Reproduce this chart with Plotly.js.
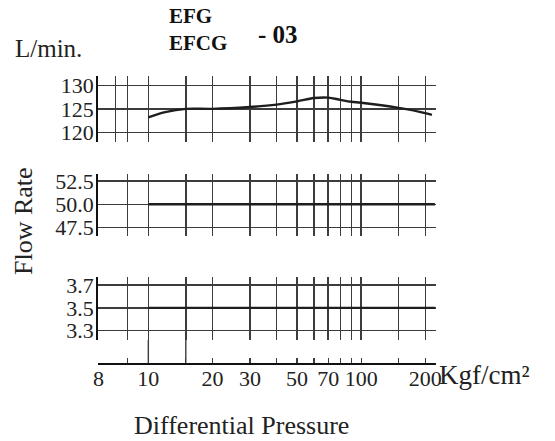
<!DOCTYPE html>
<html>
<head>
<meta charset="utf-8">
<script src="https://cdn.plot.ly/plotly-3.0.1.min.js"></script>
<style>html,body{margin:0;padding:0;background:#fff;}#chart{width:555px;height:441px;}</style>
</head>
<body>
<div id="chart"></div>
<script>
// ---- data ----
const pressureTop = [10, 12, 15, 20, 30, 40, 50, 60, 70, 80, 90, 100, 150, 200, 215];
const flowTop     = [123.2, 124.3, 125.0, 125.0, 125.4, 125.9, 126.6, 127.3, 127.4, 126.9, 126.5, 126.3, 125.2, 124.1, 123.7];
const pressureMid = [10, 222];
const flowMid     = [50.0, 50.0];
const pressureLow = [10, 222];
const flowLow     = [3.5, 3.5];

const gridTop = [7, 8, 10, 15, 20, 30, 40, 50, 60, 70, 80, 90, 100, 150, 200];
const gridMid = [8, 10, 15, 20, 30, 40, 50, 60, 70, 80, 90, 100, 150, 200];
const extendedLines = [10, 15];

const yTicksTop = [120, 125, 130];
const yTextTop  = ['120', '125', '130'];
const yTicksMid = [47.5, 50.0, 52.5];
const yTextMid  = ['47.5', '50.0', '52.5'];
const yTicksLow = [3.3, 3.5, 3.7];
const yTextLow  = ['3.3', '3.5', '3.7'];

const xTickVals = [5.84, 8, 10, 15, 20, 30, 40, 50, 60, 70, 80, 90, 100, 150, 200];
const xTickText = ['8', '', '10', '', '20', '30', '', '50', '', '70', '', '', '100', '', '200'];

// ---- layout helpers ----
const W = 555, H = 441;
const py = v => 1 - v / H;
const px = v => v / W;
const serif = 'Liberation Serif, Times New Roman, serif';
const gridCol = '#3c3c3c';
const xRange = [Math.log10(5.82), Math.log10(224)];
const xDom = [px(98.3), px(435.7)];

function xAx(grid, anchor) {
  return {
    type: 'log', range: xRange, domain: xDom, anchor: anchor,
    tickmode: 'array', tickvals: grid, showticklabels: false, ticks: '',
    showgrid: true, gridcolor: gridCol, gridwidth: 1.4,
    zeroline: false, showline: false, fixedrange: true
  };
}
function yAx(dom, range, vals, text, anchor) {
  return {
    domain: dom, range: range, anchor: anchor,
    tickmode: 'array', tickvals: vals, ticktext: text, ticks: '',
    ticklabelstandoff: -2,
    tickfont: {family: serif, size: 22, color: '#222'},
    showgrid: true, gridcolor: gridCol, gridwidth: 1.4,
    zeroline: false, showline: true, linecolor: '#111', linewidth: 2.2,
    fixedrange: true
  };
}

const lineStyle = {color: '#1e1e1e', width: 2.4};
const traces = [
  {x: pressureTop, y: flowTop, xaxis: 'x', yaxis: 'y', mode: 'lines',
   line: Object.assign({shape: 'spline', smoothing: 1}, lineStyle), hoverinfo: 'skip'},
  {x: pressureMid, y: flowMid, xaxis: 'x2', yaxis: 'y2', mode: 'lines', line: lineStyle, hoverinfo: 'skip'},
  {x: pressureLow, y: flowLow, xaxis: 'x3', yaxis: 'y3', mode: 'lines', line: lineStyle, hoverinfo: 'skip'}
];

const shapes = extendedLines.map(v => ({
  type: 'line', xref: 'x4', yref: 'paper', x0: v, x1: v,
  y0: py(362.7), y1: py(340), line: {color: gridCol, width: 1.4}
}));

const layout = {
  width: W, height: H,
  margin: {l: 0, r: 0, t: 0, b: 0},
  paper_bgcolor: '#fff', plot_bgcolor: 'rgba(0,0,0,0)',
  showlegend: false,
  xaxis: xAx(gridTop, 'y'),
  yaxis: yAx([py(141.7), py(76)], [118, 132], yTicksTop, yTextTop, 'x'),
  xaxis2: xAx(gridMid, 'y2'),
  yaxis2: yAx([py(236), py(174)], [46.6, 53.25], yTicksMid, yTextMid, 'x2'),
  xaxis3: xAx(gridMid, 'y3'),
  yaxis3: yAx([py(340), py(276.7)], [3.218, 3.773], yTicksLow, yTextLow, 'x3'),
  xaxis4: {
    type: 'log', range: xRange, domain: xDom, anchor: 'y4',
    tickmode: 'array', tickvals: xTickVals, ticktext: xTickText,
    ticks: 'inside', ticklen: 4.5, tickwidth: 1.3, tickcolor: gridCol,
    ticklabelstandoff: -5,
    tickfont: {family: serif, size: 22, color: '#222'},
    showgrid: false, zeroline: false, showline: true, linecolor: '#111', linewidth: 2.2,
    fixedrange: true
  },
  yaxis4: {domain: [py(362.7), py(345)], range: [0, 1], anchor: 'x4', visible: false, fixedrange: true},
  shapes: shapes,
  annotations: [
    {text: 'L/min.', xref: 'paper', yref: 'paper', x: px(13), y: py(48), xanchor: 'left', yanchor: 'middle',
     showarrow: false, font: {family: serif, size: 25, color: '#222'}},
    {text: '<b>EFG</b><br><b>EFCG</b>', xref: 'paper', yref: 'paper', x: px(167), y: py(30), xanchor: 'left', yanchor: 'middle',
     align: 'left', showarrow: false, font: {family: serif, size: 21, color: '#111'}},
    {text: '<b>- 03</b>', xref: 'paper', yref: 'paper', x: px(256), y: py(34), xanchor: 'left', yanchor: 'middle',
     showarrow: false, font: {family: serif, size: 25, color: '#111'}},
    {text: 'Flow Rate', xref: 'paper', yref: 'paper', x: px(24), y: py(221), xanchor: 'center', yanchor: 'middle',
     textangle: -90, showarrow: false, font: {family: serif, size: 26, color: '#222'}},
    {text: 'Differential Pressure', xref: 'paper', yref: 'paper', x: px(241), y: py(425), xanchor: 'center', yanchor: 'middle',
     showarrow: false, font: {family: serif, size: 26, color: '#222'}},
    {text: 'Kgf/cm²', xref: 'paper', yref: 'paper', x: px(437), y: py(375), xanchor: 'left', yanchor: 'middle',
     showarrow: false, font: {family: serif, size: 27, color: '#222'}}
  ]
};

Plotly.newPlot('chart', traces, layout, {staticPlot: true, displayModeBar: false});
</script>
</body>
</html>
